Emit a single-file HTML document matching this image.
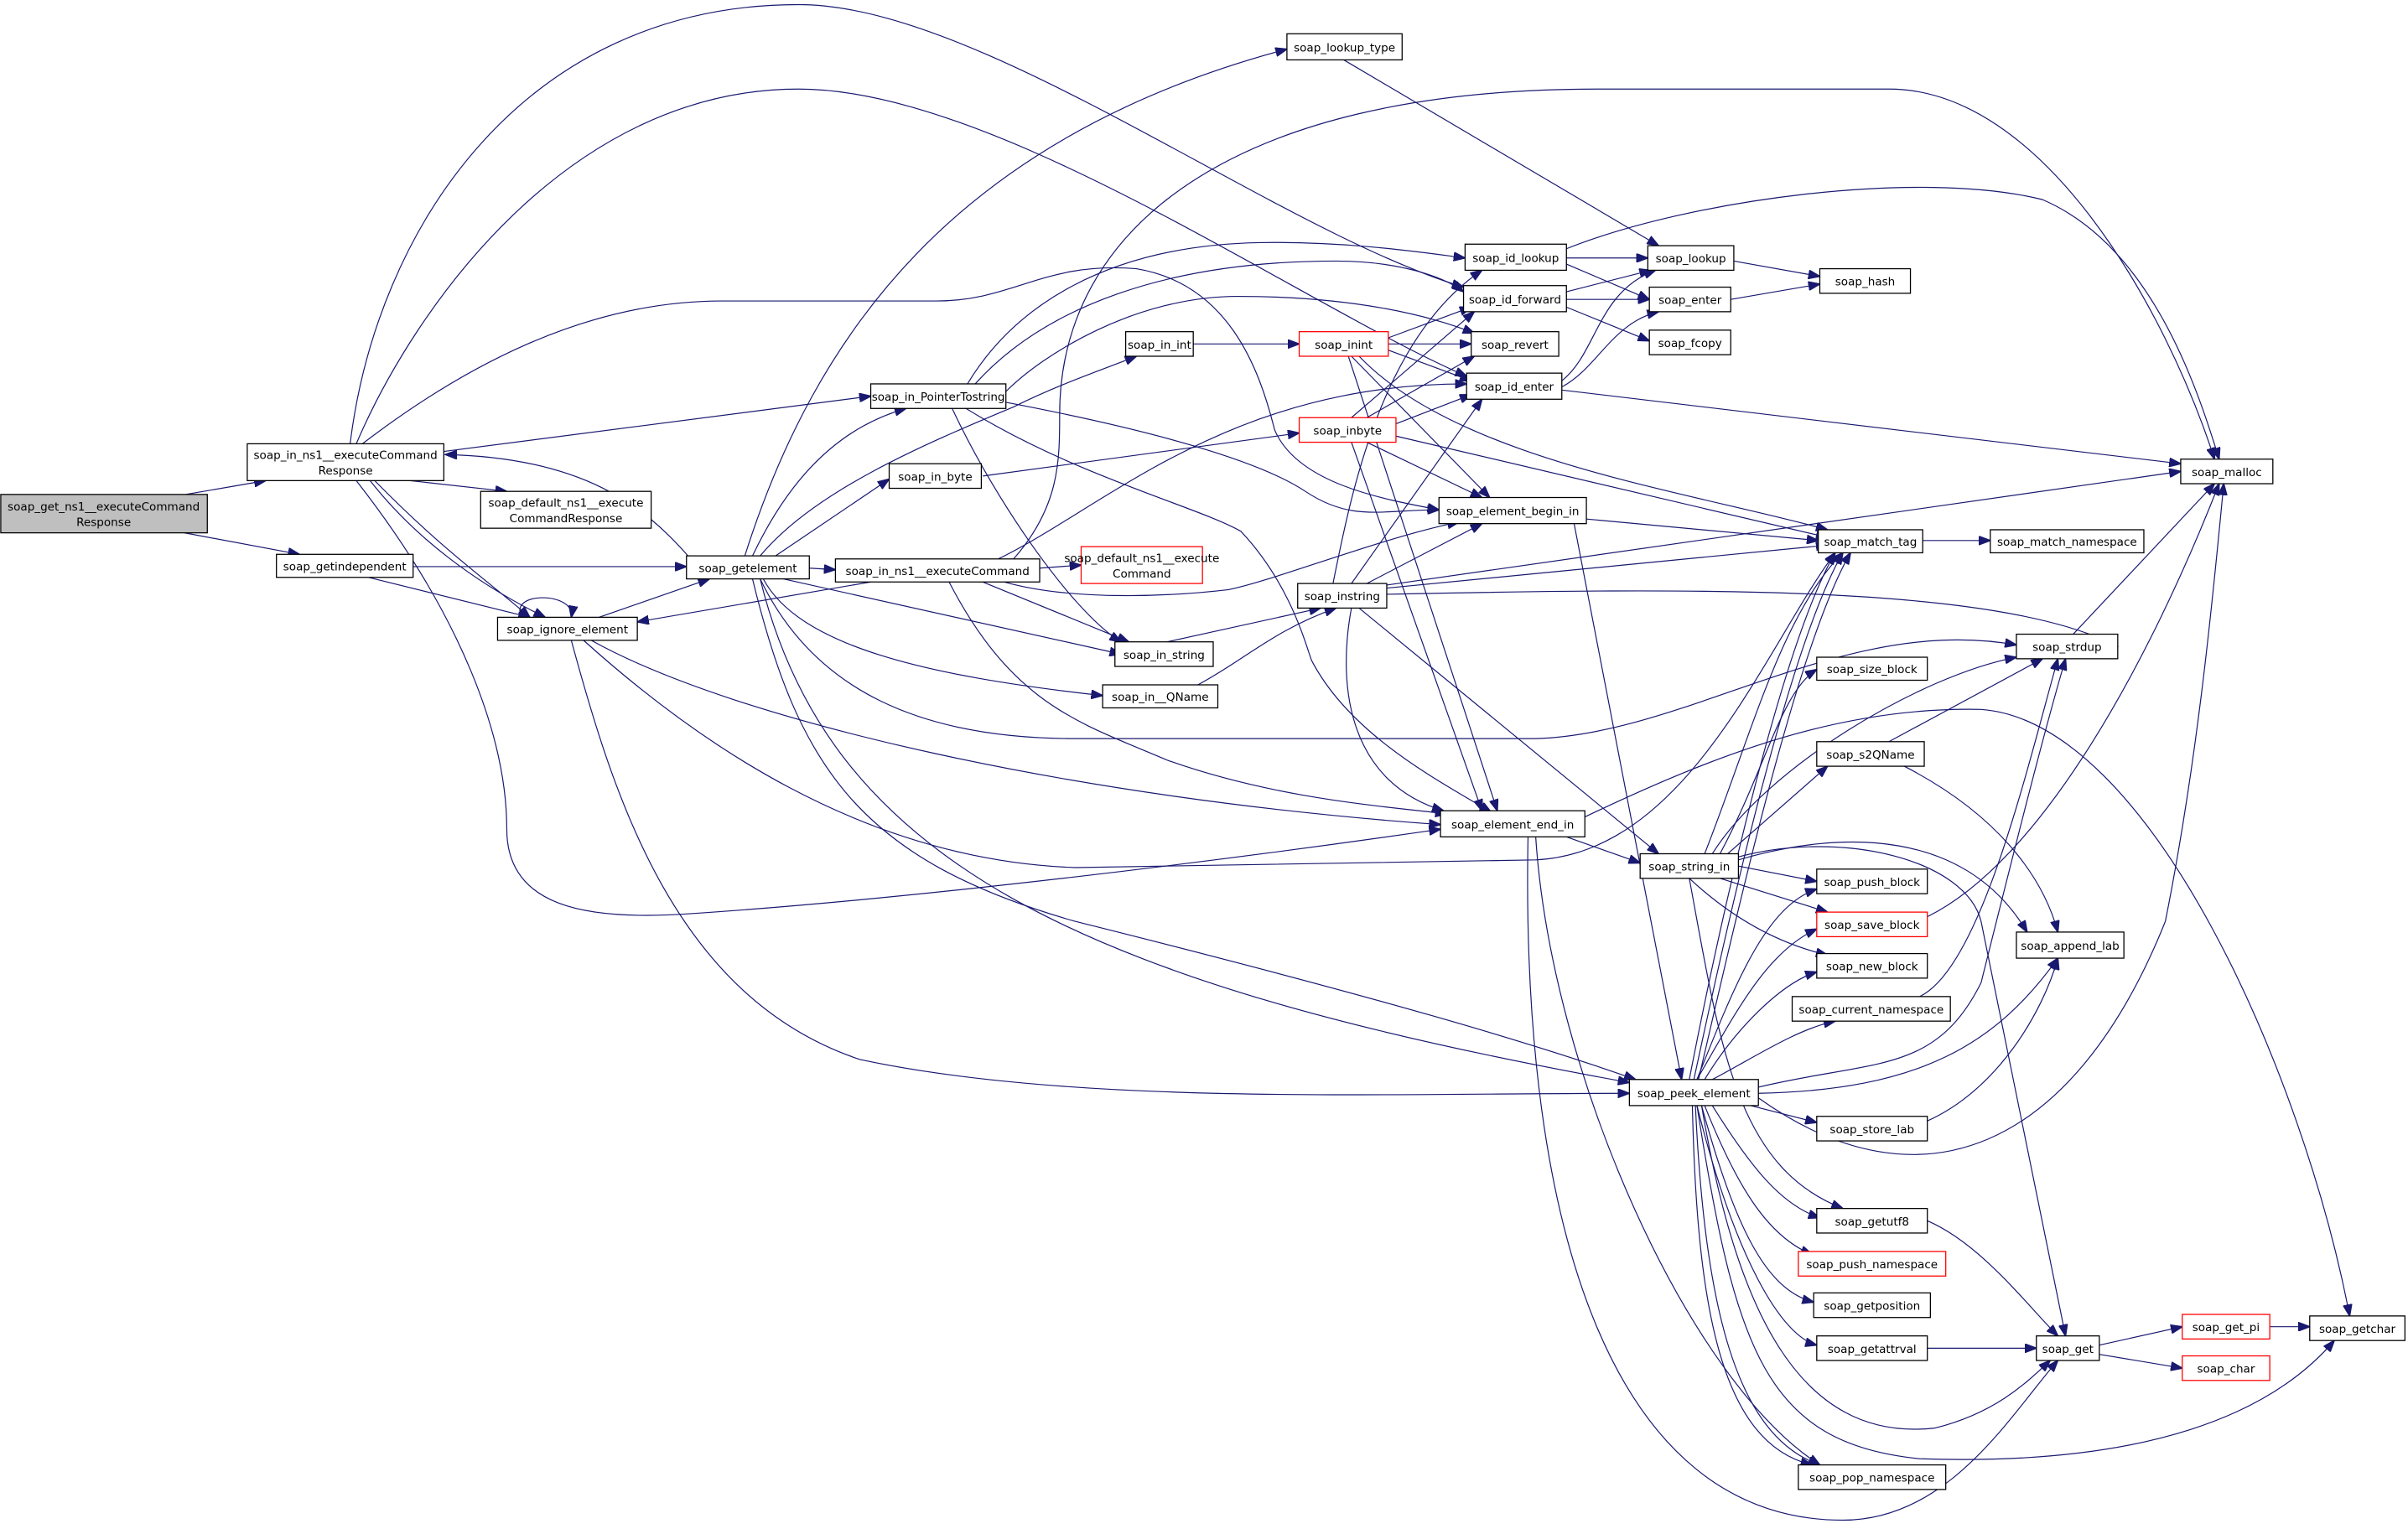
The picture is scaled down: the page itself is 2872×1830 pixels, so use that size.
<!DOCTYPE html>
<html><head><meta charset="utf-8"><style>
html,body{margin:0;padding:0;background:#fff;}
svg{display:block;}
text{font-family:"DejaVu Sans","Liberation Sans",sans-serif;font-size:7.4px;fill:#000;text-anchor:middle;}
.e{fill:none;stroke:#191970;stroke-width:0.65;marker-end:url(#a);}
.n{fill:#fff;stroke:#000;stroke-width:0.7;}
.r{fill:#fff;stroke:#ff0000;stroke-width:0.7;}
</style></head><body>
<svg width="2872" height="1830" viewBox="0 0 1568 999" preserveAspectRatio="none" xmlns="http://www.w3.org/2000/svg">
<defs><marker id="a" markerWidth="8" markerHeight="6" refX="7.5" refY="3" orient="auto" markerUnits="userSpaceOnUse"><path d="M0,0 L8,3 L0,6 Z" fill="#191970" stroke="#191970" stroke-width="0.5"/></marker></defs>
<rect width="1568" height="999" fill="#fff"/>
<g>
<path class="e" d="M121,322 L173,313"/>
<path class="e" d="M120,347 L195,361"/>
<path class="e" d="M267,313 L330,320"/>
<path class="e" d="M244,313 C290,360 320,380 345,402"/>
<path class="e" d="M241,313 C270,350 310,380 355,402"/>
<path class="e" d="M228,289 C245,150 340,3 520,3 C640,3 830,150 953,187"/>
<path class="e" d="M232,289 C270,200 370,58 520,58 C650,58 850,200 955,245"/>
<path class="e" d="M236,289 C300,240 380,196 470,196 L610,196 C660,196 680,170 740,175 C800,185 820,240 830,280 C845,315 900,325 937,332"/>
<path class="e" d="M448,362 C420,330 380,298 290,296"/>
<path class="e" d="M289,294 L567,258"/>
<path class="e" d="M232,313 C300,400 330,480 330,540 C330,590 380,600 450,595 C600,585 800,560 938,540"/>
<path class="e" d="M269,369 L447,369"/>
<path class="e" d="M240,376 L345,402"/>
<path class="e" d="M390,402 L462,377"/>
<path class="e" d="M567,379 L415,405"/>
<path class="e" d="M340,402 C330,385 375,385 372,402"/>
<path class="e" d="M385,417 C480,470 700,520 938,537"/>
<path class="e" d="M372,417 C400,520 440,650 560,690 C700,720 900,712 1061,712"/>
<path class="e" d="M380,417 C450,480 560,560 700,565 L1000,560 C1100,555 1150,420 1195,360"/>
<path class="e" d="M527,370 L544,371"/>
<path class="e" d="M490,362 C510,320 540,280 590,266"/>
<path class="e" d="M505,362 L579,312"/>
<path class="e" d="M495,362 C530,320 600,290 660,265 C690,250 720,240 740,232"/>
<path class="e" d="M485,362 C530,220 620,90 838,32"/>
<path class="e" d="M660,364 C690,330 690,300 690,270 C690,150 800,58 1040,58 L1230,58 C1330,58 1410,200 1442,299"/>
<path class="e" d="M510,377 L730,426"/>
<path class="e" d="M497,377 C520,420 600,440 718,453"/>
<path class="e" d="M495,377 C530,450 600,481 700,481 L1000,481 C1100,478 1200,400 1313,420"/>
<path class="e" d="M495,377 C540,560 700,640 1061,705"/>
<path class="e" d="M490,377 C520,500 560,560 700,600 C900,650 1000,680 1065,703"/>
<path class="e" d="M630,250 C660,200 720,160 820,158 C880,157 930,165 954,168"/>
<path class="e" d="M635,250 C680,200 760,170 870,170 C910,170 940,180 953,190"/>
<path class="e" d="M655,255 C680,230 740,193 806,193 C880,193 930,205 960,217"/>
<path class="e" d="M655,262 C750,280 820,300 850,320 C880,340 900,332 937,332"/>
<path class="e" d="M620,266 C650,330 700,400 730,418"/>
<path class="e" d="M629,266 C700,310 780,330 808,346 C840,380 850,419 854,430 C880,480 940,510 971,529"/>
<path class="e" d="M777,224 L846,224"/>
<path class="e" d="M904,224 L958,224"/>
<path class="e" d="M904,220 L958,200"/>
<path class="e" d="M904,228 L958,248"/>
<path class="e" d="M880,232 L970,324"/>
<path class="e" d="M878,232 L975,528"/>
<path class="e" d="M885,232 C950,300 1100,320 1190,345"/>
<path class="e" d="M880,272 L960,203"/>
<path class="e" d="M890,272 L960,232"/>
<path class="e" d="M909,276 L958,257"/>
<path class="e" d="M890,288 L965,324"/>
<path class="e" d="M909,284 L1190,350"/>
<path class="e" d="M880,288 L965,528"/>
<path class="e" d="M640,310 L846,282"/>
<path class="e" d="M650,364 C720,330 800,250 955,250"/>
<path class="e" d="M677,370 L704,368"/>
<path class="e" d="M640,379 L735,418"/>
<path class="e" d="M618,379 C660,460 704,471 760,495 C830,520 900,525 942,530"/>
<path class="e" d="M654,379 C700,392 766,388 800,384 C830,378 900,350 950,340"/>
<path class="e" d="M760,418 L860,396"/>
<path class="e" d="M780,446 C810,430 830,410 870,396"/>
<path class="e" d="M868,380 C880,320 900,220 965,176"/>
<path class="e" d="M880,380 L965,260"/>
<path class="e" d="M890,380 L965,341"/>
<path class="e" d="M903,383 L1190,355"/>
<path class="e" d="M903,387 C1100,383 1300,380 1379,421"/>
<path class="e" d="M880,396 C870,450 880,510 940,528"/>
<path class="e" d="M885,396 L1080,556"/>
<path class="e" d="M903,381 L1420,307"/>
<path class="e" d="M1033,338 L1184,352"/>
<path class="e" d="M1025,341 L1095,703"/>
<path class="e" d="M1020,168 L1073,168"/>
<path class="e" d="M1020,172 L1074,195"/>
<path class="e" d="M1020,162 C1100,130 1250,110 1330,130 C1400,160 1430,250 1445,299"/>
<path class="e" d="M1020,190 L1075,176"/>
<path class="e" d="M1020,195 L1074,195"/>
<path class="e" d="M1020,200 L1074,222"/>
<path class="e" d="M1017,248 C1040,230 1040,190 1078,176"/>
<path class="e" d="M1017,252 C1040,240 1050,210 1080,203"/>
<path class="e" d="M1017,254 L1420,302"/>
<path class="e" d="M875,39 L1080,160"/>
<path class="e" d="M1129,170 L1185,180"/>
<path class="e" d="M1127,195 L1185,185"/>
<path class="e" d="M1252,352 L1296,352"/>
<path class="e" d="M1350,413 L1442,315"/>
<path class="e" d="M1020,545 L1068,562"/>
<path class="e" d="M1000,545 C1010,700 1100,900 1185,954"/>
<path class="e" d="M995,545 C990,800 1050,990 1200,990 C1270,990 1310,920 1340,886"/>
<path class="e" d="M1032,532 C1120,490 1200,460 1290,462 C1400,470 1500,700 1530,857"/>
<path class="e" d="M1132,564 L1183,574"/>
<path class="e" d="M1120,572 L1190,594"/>
<path class="e" d="M1100,572 C1130,600 1160,615 1190,622"/>
<path class="e" d="M1120,556 C1150,500 1160,450 1183,436"/>
<path class="e" d="M1125,556 L1190,499"/>
<path class="e" d="M1132,560 C1200,540 1280,540 1320,607"/>
<path class="e" d="M1132,558 C1200,540 1280,560 1290,600 C1310,700 1330,800 1345,870"/>
<path class="e" d="M1100,572 C1120,680 1130,760 1200,787"/>
<path class="e" d="M1110,556 C1140,480 1160,400 1200,360"/>
<path class="e" d="M1115,556 C1150,500 1250,440 1313,428"/>
<path class="e" d="M1230,483 L1330,429"/>
<path class="e" d="M1240,499 C1300,530 1330,570 1340,607"/>
<path class="e" d="M1255,597 C1330,560 1400,430 1445,315"/>
<path class="e" d="M1250,649 C1290,630 1320,500 1340,429"/>
<path class="e" d="M1255,730 C1300,710 1330,660 1340,624"/>
<path class="e" d="M1255,795 C1290,810 1320,850 1340,870"/>
<path class="e" d="M1255,878 L1326,878"/>
<path class="e" d="M1367,876 L1421,864"/>
<path class="e" d="M1367,882 L1421,891"/>
<path class="e" d="M1478,864 L1504,864"/>
<path class="e" d="M1100,703 C1120,600 1160,420 1195,360"/>
<path class="e" d="M1103,703 C1125,600 1165,420 1200,360"/>
<path class="e" d="M1106,703 C1130,600 1170,420 1205,360"/>
<path class="e" d="M1105,703 C1130,640 1150,590 1183,579"/>
<path class="e" d="M1105,703 C1130,660 1150,620 1183,605"/>
<path class="e" d="M1110,703 C1130,670 1160,640 1183,633"/>
<path class="e" d="M1115,703 C1140,690 1170,670 1195,665"/>
<path class="e" d="M1145,712 C1250,710 1300,680 1340,624"/>
<path class="e" d="M1140,720 L1183,731"/>
<path class="e" d="M1115,720 C1140,760 1160,785 1185,793"/>
<path class="e" d="M1110,720 C1130,770 1150,805 1180,817"/>
<path class="e" d="M1108,720 C1130,800 1150,840 1181,848"/>
<path class="e" d="M1105,720 C1130,820 1160,870 1183,876"/>
<path class="e" d="M1108,720 C1130,850 1170,940 1260,930 C1300,920 1320,900 1335,886"/>
<path class="e" d="M1105,720 C1130,880 1150,940 1250,950 C1400,955 1480,920 1520,873"/>
<path class="e" d="M1102,720 C1105,850 1120,940 1180,954"/>
<path class="e" d="M1104,720 C1110,850 1130,935 1185,954"/>
<path class="e" d="M1145,715 C1250,790 1350,750 1410,600 C1430,500 1440,400 1448,315"/>
<path class="e" d="M1145,708 C1220,690 1260,700 1290,640 C1310,560 1330,480 1345,429"/>
</g>
<g>
<rect x="0.5" y="322" width="134.5" height="25" fill="#bfbfbf" stroke="#000" stroke-width="0.7"/><text x="67.5" y="332.5">soap_get_ns1__executeCommand</text><text x="67.5" y="342.5">Response</text>
<rect class="n" x="161" y="289" width="128" height="24"/><text x="225" y="299">soap_in_ns1__executeCommand</text><text x="225" y="309">Response</text>
<rect class="n" x="313" y="320" width="111" height="24"/><text x="368.5" y="330">soap_default_ns1__execute</text><text x="368.5" y="340">CommandResponse</text>
<rect class="n" x="180" y="361" width="89" height="15"/><text x="224.5" y="371.5">soap_getindependent</text>
<rect class="n" x="447" y="362" width="80" height="15"/><text x="487" y="372.5">soap_getelement</text>
<rect class="n" x="324" y="402" width="91" height="15"/><text x="369.5" y="412.5">soap_ignore_element</text>
<rect class="n" x="838" y="22" width="75" height="17"/><text x="875.5" y="33.5">soap_lookup_type</text>
<rect class="n" x="954" y="159" width="66" height="17"/><text x="987" y="170.5">soap_id_lookup</text>
<rect class="n" x="953" y="186" width="67" height="17"/><text x="986.5" y="197.5">soap_id_forward</text>
<rect class="n" x="958" y="216" width="57" height="16"/><text x="986.5" y="227">soap_revert</text>
<rect class="n" x="955" y="243" width="62" height="17"/><text x="986" y="254.5">soap_id_enter</text>
<rect class="n" x="733" y="216" width="44" height="16"/><text x="755" y="227">soap_in_int</text>
<rect class="r" x="846" y="216" width="58" height="16"/><text x="875" y="227">soap_inint</text>
<rect class="n" x="567" y="250" width="88" height="16"/><text x="611" y="261">soap_in_PointerTostring</text>
<rect class="n" x="579" y="302" width="60" height="16"/><text x="609" y="313">soap_in_byte</text>
<rect class="r" x="846" y="272" width="63" height="16"/><text x="877.5" y="283">soap_inbyte</text>
<rect class="n" x="1073" y="160" width="56" height="16"/><text x="1101" y="171">soap_lookup</text>
<rect class="n" x="1074" y="187" width="53" height="16"/><text x="1100.5" y="198">soap_enter</text>
<rect class="n" x="1074" y="215" width="53" height="16"/><text x="1100.5" y="226">soap_fcopy</text>
<rect class="n" x="1185" y="175" width="59" height="16"/><text x="1214.5" y="186">soap_hash</text>
<rect class="n" x="1420" y="299" width="60" height="16"/><text x="1450" y="310">soap_malloc</text>
<rect class="n" x="937" y="324" width="96" height="17"/><text x="985" y="335.5">soap_element_begin_in</text>
<rect class="n" x="1184" y="345" width="68" height="15"/><text x="1218" y="355.5">soap_match_tag</text>
<rect class="n" x="1296" y="345" width="100" height="15"/><text x="1346" y="355.5">soap_match_namespace</text>
<rect class="r" x="704" y="356" width="79" height="24"/><text x="743.5" y="366">soap_default_ns1__execute</text><text x="743.5" y="376">Command</text>
<rect class="n" x="544" y="364" width="133" height="15"/><text x="610.5" y="374.5">soap_in_ns1__executeCommand</text>
<rect class="n" x="845" y="380" width="58" height="16"/><text x="874" y="391">soap_instring</text>
<rect class="n" x="726" y="418" width="64" height="16"/><text x="758" y="429">soap_in_string</text>
<rect class="n" x="718" y="446" width="75" height="15"/><text x="755.5" y="456.5">soap_in__QName</text>
<rect class="n" x="1313" y="413" width="66" height="16"/><text x="1346" y="424">soap_strdup</text>
<rect class="n" x="1183" y="428" width="72" height="15"/><text x="1219" y="438.5">soap_size_block</text>
<rect class="n" x="1183" y="483" width="70" height="16"/><text x="1218" y="494">soap_s2QName</text>
<rect class="n" x="938" y="528" width="94" height="17"/><text x="985" y="539.5">soap_element_end_in</text>
<rect class="n" x="1068" y="556" width="64" height="16"/><text x="1100" y="567">soap_string_in</text>
<rect class="n" x="1183" y="566" width="72" height="16"/><text x="1219" y="577">soap_push_block</text>
<rect class="r" x="1183" y="594" width="72" height="16"/><text x="1219" y="605">soap_save_block</text>
<rect class="n" x="1313" y="607" width="70" height="17"/><text x="1348" y="618.5">soap_append_lab</text>
<rect class="n" x="1183" y="621" width="72" height="16"/><text x="1219" y="632">soap_new_block</text>
<rect class="n" x="1167" y="649" width="103" height="16"/><text x="1218.5" y="660">soap_current_namespace</text>
<rect class="n" x="1061" y="703" width="84" height="17"/><text x="1103" y="714.5">soap_peek_element</text>
<rect class="n" x="1183" y="727" width="72" height="16"/><text x="1219" y="738">soap_store_lab</text>
<rect class="n" x="1183" y="787" width="72" height="16"/><text x="1219" y="798">soap_getutf8</text>
<rect class="r" x="1171" y="815" width="96" height="16"/><text x="1219" y="826">soap_push_namespace</text>
<rect class="n" x="1181" y="842" width="76" height="16"/><text x="1219" y="853">soap_getposition</text>
<rect class="n" x="1183" y="870" width="72" height="16"/><text x="1219" y="881">soap_getattrval</text>
<rect class="n" x="1326" y="870" width="41" height="16"/><text x="1346.5" y="881">soap_get</text>
<rect class="r" x="1421" y="856" width="57" height="16"/><text x="1449.5" y="867">soap_get_pi</text>
<rect class="r" x="1421" y="883" width="57" height="16"/><text x="1449.5" y="894">soap_char</text>
<rect class="n" x="1504" y="857" width="62" height="16"/><text x="1535" y="868">soap_getchar</text>
<rect class="n" x="1171" y="954" width="96" height="16"/><text x="1219" y="965">soap_pop_namespace</text>
</g>
</svg>
</body></html>
